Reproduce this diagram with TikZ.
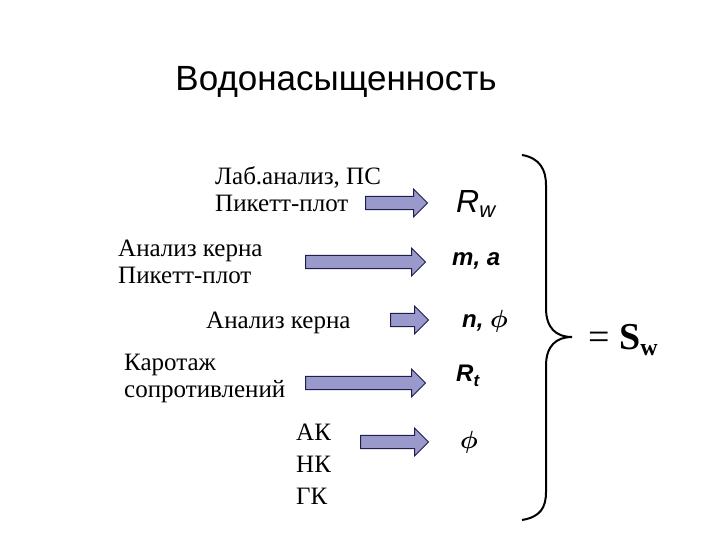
\documentclass[tikz,border=0pt]{standalone}
\usepackage{amsmath}
\usepackage{fontspec}
\setmainfont{Liberation Serif}
\newfontfamily\arial{Liberation Sans}
\usetikzlibrary{shapes.arrows}
\definecolor{arrfill}{HTML}{9999CC}
\definecolor{arrline}{HTML}{1F1F4F}
\begin{document}
\begin{tikzpicture}[x=1pt,y=-1pt,
  barrow/.style={single arrow, draw=arrline, fill=arrfill, line width=1pt,
    minimum height=#1, minimum width=28pt, inner sep=0pt, anchor=west},
  ltxt/.style={font=\fontsize{25}{27}\selectfont, align=left, anchor=west, inner sep=0pt},
  rtxt/.style={font=\arial\bfseries\itshape\fontsize{24}{28}\selectfont, anchor=west, inner sep=0pt}]
\useasboundingbox (0,0) rectangle (720,540);
\node[font=\arial\fontsize{35}{40}\selectfont] (title) at (336,82) {Водонасыщенность};
\node[ltxt] (l1) at (215,189) {Лаб.анализ, ПС\\Пикетт-плот};
\node[ltxt] (l2) at (118,262) {Анализ керна\\Пикетт-плот};
\node[ltxt] (l3) at (206,323) {Анализ керна};
\node[ltxt] (l4) at (124,378) {Каротаж\\сопротивлений};
\node[ltxt, font=\fontsize{25}{32}\selectfont] (l5) at (296,464) {АК\\НК\\ГК};
\node[barrow=62pt] (a1) at (365,203) {\rule{0pt}{12pt}};
\node[barrow=120pt] (a2) at (305,262) {\rule{0pt}{12pt}};
\node[barrow=38pt] (a3) at (390,320) {\rule{0pt}{12pt}};
\node[barrow=120pt] (a4) at (305,383) {\rule{0pt}{12pt}};
\node[barrow=68pt] (a5) at (360,442) {\rule{0pt}{12pt}};
\node[rtxt, font=\arial\itshape\fontsize{32}{36}\selectfont] (r1) at (456,204) {R\raisebox{-5pt}{\fontsize{22}{24}\selectfont w}};
\node[rtxt] (r2) at (452,261) {m, a};
\node[rtxt] (r3) at (462,321) {n, \fontsize{28}{30}\selectfont$\boldsymbol{\phi}$};
\node[rtxt] (r4) at (456,376) {R\raisebox{-5pt}{\fontsize{17}{19}\selectfont t}};
\node[rtxt] (r5) at (460,442) {\fontsize{28}{30}\selectfont$\boldsymbol{\phi}$};
\draw[line width=2pt] (522,155) .. controls (540,158) and (546,170) .. (546,185)
  -- (546,308) .. controls (546,328) and (556,337) .. (572,337)
  .. controls (556,337) and (546,346) .. (546,366)
  -- (546,492) .. controls (546,508) and (540,517) .. (522,520);
\node[anchor=west, inner sep=0pt, font=\fontsize{38}{42}\selectfont] (sw) at (588,340) {= \textbf{S}\raisebox{-6pt}{\fontsize{24}{26}\selectfont\textbf{w}}};
\end{tikzpicture}
\end{document}
